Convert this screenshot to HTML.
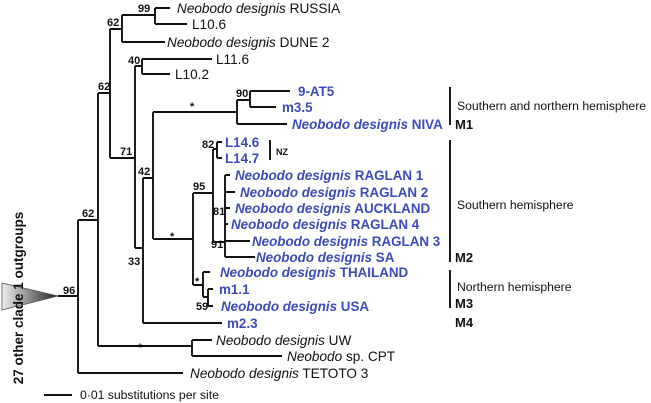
<!DOCTYPE html>
<html><head><meta charset="utf-8"><style>
html,body{margin:0;padding:0;background:#fff;}
svg{display:block;}
text{font-family:"Liberation Sans",Arial,sans-serif;}
.k{font-size:13.6px;fill:#111;}
.b{font-size:13.4px;fill:#3c4bb8;font-weight:bold;}
.n{font-size:11px;font-weight:bold;fill:#111;}
.r{font-size:12.2px;fill:#111;}
.m{font-size:13px;font-weight:bold;fill:#111;}
</style></head><body>
<svg width="651" height="403" viewBox="0 0 651 403" xmlns="http://www.w3.org/2000/svg">
<defs><linearGradient id="g" x1="0" x2="1" y1="0" y2="0"><stop offset="0" stop-color="#eee"/><stop offset="1" stop-color="#222"/></linearGradient></defs>
<polygon points="2,283 2,310 58,296" fill="url(#g)" stroke="#555" stroke-width="0.8"/>
<g stroke="#111" stroke-width="1.9" fill="none">
<path d="M58,296H78M78,220V373M78,220H98M78,373H183"/>
<path d="M98,93V346M98,93H110M110,29V158M110,29H122M122,15V42M122,15H155M155,8V24M155,8H170M155,24H187M122,42H165"/>
<path d="M110,158H135M135,66V248M135,66H142M142,59V74M142,59H212M142,74H170M135,248H143"/>
<path d="M143,178V323M143,178H153M153,112V239M153,112H237M237,100V124M237,100H250M250,91V107M250,91H290M250,107H276M237,124H287"/>
<path d="M153,239H193M193,193V285M193,193H213M213,149V242M213,149H217M217,142V158M217,142H222M217,158H222"/>
<path d="M213,242H225M225,175V257M225,175H230M225,192H235M225,208H230M225,224H228M225,241H250M225,257H255"/>
<path d="M193,285H203M203,272V297M203,272H210M203,297H208M208,289V306M208,289H213M208,306H213"/>
<path d="M143,323H222"/>
<path d="M98,346H192M192,340V356M192,340H212M192,356H282"/>
<path d="M44,395H72"/>
<path d="M450,87V125M450,140V262M450,270V308M270,140V160"/>
</g>
<text class="n" x="63" y="294">96</text>
<text class="n" x="82" y="217">62</text>
<text class="n" x="98" y="90">62</text>
<text class="n" x="107" y="26">62</text>
<text class="n" x="138" y="12">99</text>
<text class="n" x="128" y="64">40</text>
<text class="n" x="120" y="155">71</text>
<text class="n" x="138" y="175">42</text>
<text class="n" x="128" y="265">33</text>
<text class="n" x="190" y="110">*</text>
<text class="n" x="236" y="97">90</text>
<text class="n" x="202" y="148">82</text>
<text class="n" x="193" y="190">95</text>
<text class="n" x="170" y="240">*</text>
<text class="n" x="213" y="215">81</text>
<text class="n" x="211" y="248">91</text>
<text class="n" x="195" y="285">*</text>
<text class="n" x="196" y="310">59</text>
<text class="n" x="138" y="351">*</text>
<text class="k" x="177" y="13"><tspan font-style="italic">Neobodo designis</tspan> RUSSIA</text>
<text class="k" x="192" y="29">L10.6</text>
<text class="k" x="167" y="47"><tspan font-style="italic">Neobodo designis</tspan> DUNE 2</text>
<text class="k" x="216" y="64">L11.6</text>
<text class="k" x="175" y="79">L10.2</text>
<text class="b" x="298" y="96">9-AT5</text>
<text class="b" x="282" y="112">m3.5</text>
<text class="b" x="292" y="129"><tspan font-style="italic">Neobodo designis</tspan> NIVA</text>
<text class="b" x="225" y="147">L14.6</text>
<text class="b" x="225" y="163">L14.7</text>
<text class="b" x="235" y="180"><tspan font-style="italic">Neobodo designis</tspan> RAGLAN 1</text>
<text class="b" x="240" y="197"><tspan font-style="italic">Neobodo designis</tspan> RAGLAN 2</text>
<text class="b" x="235" y="213"><tspan font-style="italic">Neobodo designis</tspan> AUCKLAND</text>
<text class="b" x="231" y="229"><tspan font-style="italic">Neobodo designis</tspan> RAGLAN 4</text>
<text class="b" x="252" y="246"><tspan font-style="italic">Neobodo designis</tspan> RAGLAN 3</text>
<text class="b" x="256" y="262"><tspan font-style="italic">Neobodo designis</tspan> SA</text>
<text class="b" x="220" y="277"><tspan font-style="italic">Neobodo designis</tspan> THAILAND</text>
<text class="b" x="219" y="294">m1.1</text>
<text class="b" x="221" y="311"><tspan font-style="italic">Neobodo designis</tspan> USA</text>
<text class="b" x="227" y="328">m2.3</text>
<text class="k" x="216" y="345"><tspan font-style="italic">Neobodo designis</tspan> UW</text>
<text class="k" x="287" y="361"><tspan font-style="italic">Neobodo</tspan> sp. CPT</text>
<text class="k" x="190" y="378"><tspan font-style="italic">Neobodo designis</tspan> TETOTO 3</text>
<text class="r" x="80" y="399">0·01 substitutions per site</text>
<text x="276" y="155" style="font-size:9px;font-weight:bold;fill:#111">NZ</text>
<text class="r" x="457" y="110">Southern and northern hemisphere</text>
<text class="m" x="455" y="129">M1</text>
<text class="r" x="457" y="209">Southern hemisphere</text>
<text class="m" x="455" y="262">M2</text>
<text class="r" x="457" y="291">Northern hemisphere</text>
<text class="m" x="455" y="308">M3</text>
<text class="m" x="455" y="327">M4</text>
<text transform="translate(23,298) rotate(-90)" text-anchor="middle" style="font-size:13.5px;font-weight:bold;fill:#111">27 other clade 1 outgroups</text>
</svg>
</body></html>
